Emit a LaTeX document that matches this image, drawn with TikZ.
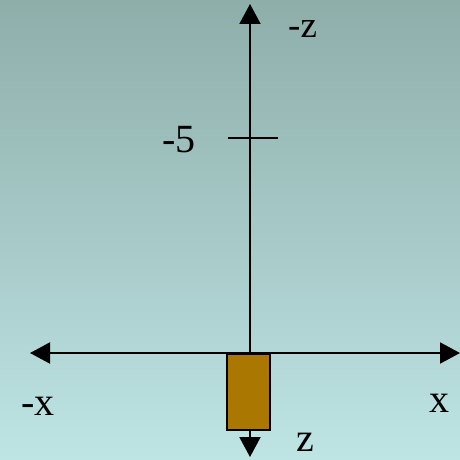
\documentclass[tikz,border=0pt]{standalone}
\usepackage{fontspec}
\setmainfont{Liberation Serif}
\usetikzlibrary{arrows.meta}
\definecolor{bgtop}{RGB}{142,174,170}
\definecolor{bgbot}{RGB}{190,228,228}
\definecolor{boxfill}{RGB}{170,120,0}
\tikzset{
  axis/.style={line width=2pt, draw=black, {Triangle[length=20pt,width=21pt]}-{Triangle[length=20pt,width=21pt]}},
  bigl/.style={font=\fontsize{40}{40}\selectfont, inner sep=0pt, text depth=0pt},
  smalll/.style={font=\fontsize{37}{37}\selectfont, inner sep=0pt, text depth=0pt},
  boxst/.style={draw=black, line width=1.6pt, fill=boxfill}
}
\begin{document}
\begin{tikzpicture}[x=1pt,y=1pt]
\shade[top color=bgtop, bottom color=bgbot] (0,0) rectangle (460,459);
\useasboundingbox (0,0) rectangle (460,459);
\coordinate (ztop) at (250,455);
\coordinate (zbot) at (250,2);
\coordinate (xleft) at (30,106);
\coordinate (xright) at (460,106);
\coordinate (tickl) at (228,321);
\coordinate (tickr) at (278,321);
\draw[axis] (zbot) -- (ztop);
\draw[axis] (xleft) -- (xright);
\draw[line width=1.5pt] (tickl) -- (tickr);
\node[boxst, minimum width=43pt, minimum height=76pt, inner sep=0pt, anchor=north west] (box) at (226,106) {};
\node[smalll, anchor=base west] (lmz) at (288,421) {-z};
\node[bigl, anchor=base east] (lm5) at (196,307) {-5};
\node[bigl, anchor=base west] (lmx) at (21,44) {-x};
\node[bigl, anchor=base west] (lx) at (429,47) {x};
\node[bigl, anchor=base west] (lz) at (296,8) {z};
\end{tikzpicture}
\end{document}
